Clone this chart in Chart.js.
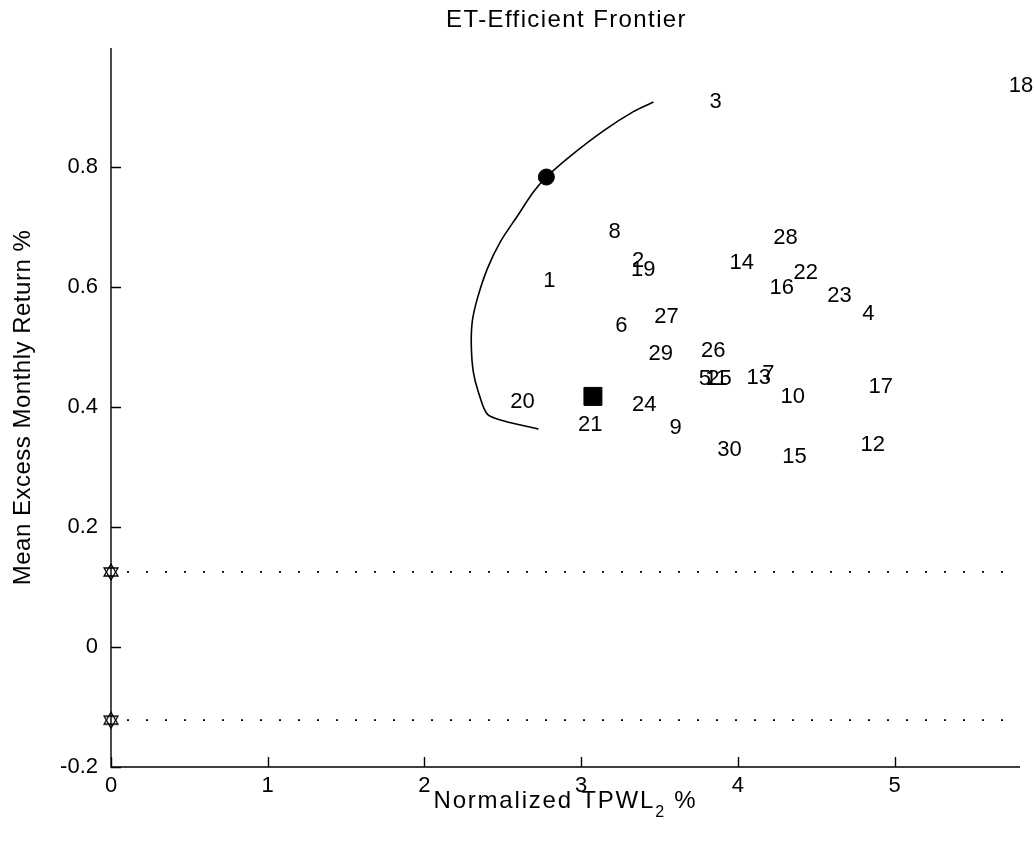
<!DOCTYPE html>
<html>
<head>
<meta charset="utf-8">
<script src="https://cdn.jsdelivr.net/npm/chart.js@4.4.0/dist/chart.umd.min.js"></script>
<style>
  html, body { margin: 0; padding: 0; background: #fff; }
</style>
</head>
<body>
<canvas id="frontier" width="1034" height="849"></canvas>
<script>
// efficient frontier curve
const frontierX = [2.727, 2.503, 2.401, 2.344, 2.312, 2.299, 2.305, 2.337, 2.401, 2.484, 2.593, 2.695, 2.778, 2.931, 3.142, 3.333, 3.461];
const frontierY = [0.363, 0.377, 0.388, 0.425, 0.458, 0.502, 0.542, 0.580, 0.630, 0.675, 0.718, 0.758, 0.783, 0.818, 0.860, 0.892, 0.908];

// numbered assets (label is drawn left aligned at the point)
const assetNames = ['1', '2', '3', '4', '5', '6', '7', '8', '9', '10',
                    '11', '12', '13', '14', '15', '16', '17', '18', '19', '20',
                    '21', '22', '23', '24', '25', '26', '27', '28', '29', '30'];
const assetX = [2.758, 3.325, 3.819, 4.794, 3.750, 3.218, 4.155, 3.174, 3.563, 4.272,
                3.790, 4.783, 4.055, 3.946, 4.283, 4.202, 4.834, 5.728, 3.318, 2.548,
                2.980, 4.355, 4.570, 3.325, 3.804, 3.765, 3.467, 4.225, 3.430, 3.868];
const assetY = [0.610, 0.644, 0.908, 0.555, 0.447, 0.535, 0.455, 0.692, 0.365, 0.417,
                0.447, 0.336, 0.448, 0.640, 0.317, 0.598, 0.434, 0.935, 0.629, 0.408,
                0.370, 0.623, 0.585, 0.403, 0.447, 0.494, 0.550, 0.682, 0.488, 0.329];

// highlighted portfolios
const circleX = [2.778];
const circleY = [0.783];
const squareX = [3.075];
const squareY = [0.4175];

// dotted threshold lines
const bandX = [0, 5.8];
const upperBandY = [0.125, 0.125];
const lowerBandY = [-0.122, -0.122];

const xTickValues = [0, 1, 2, 3, 4, 5];
const yTickValues = [-0.2, 0, 0.2, 0.4, 0.6, 0.8];

const FONT = "'Liberation Sans', Arial, sans-serif";

const toPoints = (xs, ys) => xs.map((x, i) => ({ x: x, y: ys[i] }));

// hexagram marker like matlab's 'h'
function hexagram() {
    const c = document.createElement('canvas');
    c.width = 20;
    c.height = 20;
    const g = c.getContext('2d');
    g.strokeStyle = '#000';
    g.lineWidth = 1.3;
    const cx = 10, cy = 10, r = 8;
    [[-90, 30, 150], [90, -30, 210]].forEach(angles => {
        g.beginPath();
        angles.forEach((a, i) => {
            const t = a * Math.PI / 180;
            const px = cx + r * Math.cos(t), py = cy + r * Math.sin(t);
            if (i === 0) g.moveTo(px, py); else g.lineTo(px, py);
        });
        g.closePath();
        g.stroke();
    });
    return c;
}
const hexMarker = hexagram();

const matlabAxes = {
    id: 'matlabAxes',
    afterDraw(chart) {
        const { ctx, chartArea: a, scales: { x, y } } = chart;
        ctx.save();

        // axis lines and inward ticks
        ctx.strokeStyle = '#000';
        ctx.lineWidth = 1.4;
        ctx.beginPath();
        ctx.moveTo(a.left, a.top);
        ctx.lineTo(a.left, a.bottom);
        ctx.lineTo(a.right, a.bottom);
        xTickValues.forEach(v => {
            const px = Math.round(x.getPixelForValue(v)) + 0.5;
            ctx.moveTo(px, a.bottom);
            ctx.lineTo(px, a.bottom - 10);
        });
        yTickValues.forEach(v => {
            const py = Math.round(y.getPixelForValue(v)) + 0.5;
            ctx.moveTo(a.left, py);
            ctx.lineTo(a.left + 10, py);
        });
        ctx.stroke();

        // asset numbers
        ctx.fillStyle = '#000';
        ctx.font = '22px ' + FONT;
        ctx.textAlign = 'left';
        ctx.textBaseline = 'middle';
        const meta = chart.getDatasetMeta(5);
        meta.data.forEach((pt, i) => {
            ctx.fillText(assetNames[i], pt.x, pt.y);
        });

        // title
        const cx = (a.left + a.right) / 2;
        ctx.textAlign = 'center';
        ctx.font = '24px ' + FONT;
        ctx.letterSpacing = '1.4px';
        ctx.fillText('ET-Efficient Frontier', cx + 1, 20);

        // x label with subscript
        ctx.letterSpacing = '1.8px';
        ctx.font = '24px ' + FONT;
        const p1 = 'Normalized TPWL', p3 = ' %';
        const w1 = ctx.measureText(p1).width, w3 = ctx.measureText(p3).width;
        ctx.font = '16px ' + FONT;
        const w2 = ctx.measureText('2').width;
        let sx = cx - (w1 + w2 + w3) / 2;
        ctx.textAlign = 'left';
        ctx.font = '24px ' + FONT;
        ctx.fillText(p1, sx, 801);
        ctx.font = '16px ' + FONT;
        ctx.fillText('2', sx + w1, 813);
        ctx.font = '24px ' + FONT;
        ctx.fillText(p3, sx + w1 + w2, 801);

        // y label
        ctx.letterSpacing = '0.5px';
        ctx.translate(23, (a.top + a.bottom) / 2);
        ctx.rotate(-Math.PI / 2);
        ctx.textAlign = 'center';
        ctx.fillText('Mean Excess Monthly Return %', 0, 0);

        ctx.restore();
    }
};

new Chart(document.getElementById('frontier').getContext('2d'), {
    type: 'scatter',
    data: {
        datasets: [
            {
                label: 'frontier',
                data: toPoints(frontierX, frontierY),
                showLine: true,
                borderColor: '#000',
                borderWidth: 1.6,
                pointRadius: 0,
                tension: 0.3
            },
            {
                label: 'tangent',
                data: toPoints(circleX, circleY),
                pointStyle: 'circle',
                pointRadius: 8,
                backgroundColor: '#000',
                borderColor: '#000'
            },
            {
                label: 'square',
                data: toPoints(squareX, squareY),
                pointStyle: 'rect',
                pointRadius: 12.7,
                backgroundColor: '#000',
                borderColor: '#000'
            },
            {
                label: 'upper',
                data: toPoints(bandX, upperBandY),
                showLine: true,
                clip: false,
                borderColor: '#000',
                borderWidth: 1.8,
                borderDash: [2, 17],
                borderDashOffset: 3,
                pointStyle: hexMarker,
                pointRadius: [8, 0]
            },
            {
                label: 'lower',
                data: toPoints(bandX, lowerBandY),
                showLine: true,
                clip: false,
                borderColor: '#000',
                borderWidth: 1.8,
                borderDash: [2, 17],
                borderDashOffset: 3,
                pointStyle: hexMarker,
                pointRadius: [8, 0]
            },
            {
                label: 'assets',
                data: toPoints(assetX, assetY),
                pointRadius: 0
            }
        ]
    },
    options: {
        responsive: false,
        animation: false,
        devicePixelRatio: 1,
        layout: { padding: { top: 48, right: 14, left: 0, bottom: 0 } },
        plugins: {
            legend: { display: false },
            tooltip: { enabled: false }
        },
        scales: {
            x: {
                type: 'linear',
                min: 0,
                max: 5.8,
                border: { display: false },
                grid: { display: false, drawTicks: false },
                afterBuildTicks: (s) => { s.ticks = xTickValues.map(v => ({ value: v })); },
                afterFit: (s) => { s.height = 82; },
                ticks: {
                    padding: 6,
                    color: '#000',
                    font: { family: FONT, size: 22 },
                    callback: (v) => String(v)
                }
            },
            y: {
                type: 'linear',
                min: -0.2,
                max: 0.998,
                border: { display: false },
                grid: { display: false, drawTicks: false },
                afterBuildTicks: (s) => { s.ticks = yTickValues.map(v => ({ value: v })); },
                afterFit: (s) => { s.width = 111; },
                ticks: {
                    padding: 13,
                    color: '#000',
                    font: { family: FONT, size: 22 },
                    callback: (v) => String(Number(v.toFixed(1)))
                }
            }
        }
    },
    plugins: [matlabAxes]
});
</script>
</body>
</html>
